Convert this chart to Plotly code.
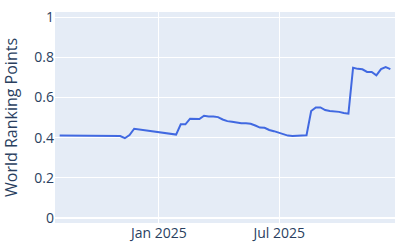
import pandas as pd
import plotly.graph_objects as go

start_date = "2024-08-05"
n_weeks = 72
dates = pd.date_range(start=start_date, periods=n_weeks, freq="7D")

points = [
    0.410, 0.410, 0.410, 0.410, 0.408, 0.408, 0.408, 0.408, 0.408, 0.408,
    0.408, 0.408, 0.408, 0.408, 0.397, 0.413, 0.444, 0.441, 0.437, 0.434,
    0.433, 0.428, 0.425, 0.421, 0.418, 0.415, 0.466, 0.466, 0.494, 0.494,
    0.492, 0.509, 0.505, 0.505, 0.502, 0.490, 0.482, 0.479, 0.474, 0.471,
    0.471, 0.469, 0.460, 0.450, 0.449, 0.438, 0.432, 0.425, 0.419, 0.410,
    0.408, 0.409, 0.410, 0.412, 0.532, 0.550, 0.550, 0.537, 0.532, 0.531,
    0.528, 0.522, 0.519, 0.748, 0.742, 0.740, 0.727, 0.727, 0.710, 0.741,
    0.751, 0.741,
]

y_ticks = [0, 0.2, 0.4, 0.6, 0.8, 1]
y_tick_labels = ["0", "0.2", "0.4", "0.6", "0.8", "1"]
x_range = ["2024-07-29", "2025-12-22"]

fig = go.Figure(
    go.Scatter(
        x=dates,
        y=points,
        mode="lines",
        line=dict(color="royalblue", width=2),
    )
)

fig.update_layout(
    width=400,
    height=250,
    margin=dict(l=55, r=5, t=12, b=27),
    showlegend=False,
    font=dict(family='"Open Sans", verdana, arial, sans-serif', size=14),
)
fig.update_xaxes(
    range=x_range,
    tickvals=["2025-01-01", "2025-07-01"],
    ticktext=["Jan 2025", "Jul 2025"],
)
fig.update_yaxes(
    range=[-0.025, 1.025],
    tickvals=y_ticks,
    ticktext=y_tick_labels,
    title=dict(text="World Ranking Points", font=dict(size=16)),
)

fig.write_html("out.html")
